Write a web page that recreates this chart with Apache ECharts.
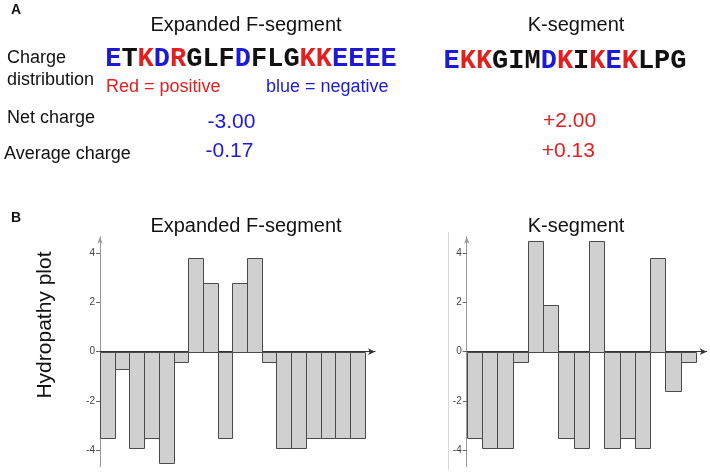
<!DOCTYPE html>
<html>
<head>
<meta charset="utf-8">
<script src="https://cdn.jsdelivr.net/npm/echarts@6/dist/echarts.min.js"></script>
<style>html,body{margin:0;padding:0;background:#fff}#c{width:710px;height:474px}</style>
</head>
<body>
<div id="c"></div>
<script>
// ---- data ----
const seqF = ['E','T','K','D','R','G','L','F','D','F','L','G','K','K','E','E','E','E'];
const hydroF = [-3.5,-0.7,-3.9,-3.5,-4.5,-0.4,3.8,2.8,-3.5,2.8,3.8,-0.4,-3.9,-3.9,-3.5,-3.5,-3.5,-3.5];
const seqK = ['E','K','K','G','I','M','D','K','I','K','E','K','L','P','G'];
const hydroK = [-3.5,-3.9,-3.9,-0.4,4.5,1.9,-3.5,-3.9,4.5,-3.9,-3.5,-3.9,3.8,-1.6,-0.4];
const netCharge = ['-3.00', '+2.00'];
const avgCharge = ['-0.17', '+0.13'];
const yTicks = [-4, -2, 0, 2, 4];
const positive = ['K','R'];
const negative = ['D','E'];

const RED = '#e3201f', BLUE = '#1c1ad8';
const SANS = '"Liberation Sans", Arial, sans-serif';
const MONO = '"Liberation Mono", "Courier New", monospace';

function richSeq(seq) {
  return seq.map(c => positive.includes(c) ? '{p|' + c + '}' : negative.includes(c) ? '{n|' + c + '}' : '{o|' + c + '}').join('');
}
const seqRich = {
  p: {fill: RED, font: 'bold 27px ' + MONO},
  n: {fill: BLUE, font: 'bold 27px ' + MONO},
  o: {fill: '#111', font: 'bold 27px ' + MONO}
};
function txt(text, x, y, size, color, align, extra) {
  return Object.assign({
    type: 'text', x: x, y: y, silent: true,
    style: {text: text, fill: color || '#111', font: size + 'px ' + SANS, align: align || 'center', verticalAlign: 'middle'}
  }, extra || {});
}

const chart = echarts.init(document.getElementById('c'));

const EXTRA = 0.7;
function makeXAxis(grid, n) {
  return {
    type: 'value', gridIndex: grid, min: 0, max: n + EXTRA,
    axisLine: {onZero: true, lineStyle: {color: '#333', width: 1}, symbol: ['none', 'arrow'], symbolSize: [5, 7]},
    axisTick: {show: false}, axisLabel: {show: false}, splitLine: {show: false}
  };
}
function makeYAxis(grid) {
  return {
    type: 'value', gridIndex: grid, min: -4.66, max: 4.66,
    axisLine: {show: true, onZero: false, lineStyle: {color: '#999', width: 1}, symbol: ['none', 'arrow'], symbolSize: [4, 7]},
    axisTick: {show: true, length: 4, customValues: yTicks, lineStyle: {color: '#666'}},
    axisLabel: {customValues: yTicks, fontSize: 10, color: '#444', fontFamily: SANS, margin: 5},
    splitLine: {show: false}
  };
}
function barData(vals) { return vals.map((v, i) => [i, v]); }
function renderBar(params, api) {
  const i = api.value(0), v = api.value(1);
  const p0 = api.coord([i, 0]);
  const p1 = api.coord([i + 1, v]);
  const x = Math.round(p0[0]) + 0.5, x2 = Math.round(p1[0]) + 0.5;
  const y0 = Math.round(p0[1]) + 0.5, y1 = Math.round(p1[1]) + 0.5;
  return {
    type: 'rect',
    shape: {x: x, y: Math.min(y0, y1), width: x2 - x, height: Math.abs(y1 - y0)},
    style: {fill: '#d0d0d0', stroke: '#4a4a4a', lineWidth: 1}
  };
}

chart.setOption({
  animation: false,
  backgroundColor: '#fff',
  grid: [
    {left: 100, top: 236.7, width: 275, height: 230},
    {left: 466.7, top: 236.7, width: 240, height: 230}
  ],
  xAxis: [makeXAxis(0, hydroF.length), makeXAxis(1, hydroK.length)],
  yAxis: [makeYAxis(0), makeYAxis(1)],
  series: [
    {type: 'custom', xAxisIndex: 0, yAxisIndex: 0, data: barData(hydroF), encode: {x: 0, y: 1}, renderItem: renderBar, z: 1},
    {type: 'custom', xAxisIndex: 1, yAxisIndex: 1, data: barData(hydroK), encode: {x: 0, y: 1}, renderItem: renderBar, z: 1}
  ],
  graphic: [
    {type: 'text', x: 16, y: 10, silent: true, style: {text: 'A', font: 'bold 14px ' + SANS, fill: '#111', align: 'center', verticalAlign: 'middle'}},
    txt('Expanded F-segment', 246, 25, 20),
    txt('K-segment', 576, 25, 20),
    txt('Charge', 7, 58, 18, '#111', 'left'),
    txt('distribution', 7, 80, 18, '#111', 'left'),
    {type: 'text', x: 251, y: 59.5, silent: true, style: {text: richSeq(seqF), rich: seqRich, font: 'bold 27px ' + MONO, align: 'center', verticalAlign: 'middle'}},
    {type: 'text', x: 565, y: 61, silent: true, style: {text: richSeq(seqK), rich: seqRich, font: 'bold 27px ' + MONO, align: 'center', verticalAlign: 'middle'}},
    txt('Red = positive', 106, 87.5, 18, RED, 'left'),
    txt('blue = negative', 266, 87.5, 18, BLUE, 'left'),
    txt('Net charge', 7, 118.5, 18, '#111', 'left'),
    txt('Average charge', 4, 154, 18, '#111', 'left'),
    txt(netCharge[0], 231.5, 122.5, 21, BLUE),
    txt(avgCharge[0], 229.5, 151.7, 21, BLUE),
    txt(netCharge[1], 569.5, 121.7, 21, RED),
    txt(avgCharge[1], 568.3, 151.7, 21, RED),
    {type: 'text', x: 16, y: 218, silent: true, style: {text: 'B', font: 'bold 14px ' + SANS, fill: '#111', align: 'center', verticalAlign: 'middle'}},
    txt('Expanded F-segment', 246, 226.7, 20),
    txt('K-segment', 576, 226.7, 20),
    txt('Hydropathy plot', 45, 325, 21, '#111', 'center', {rotation: Math.PI / 2}),
    {type: 'line', silent: true, shape: {x1: 448.5, y1: 232, x2: 448.5, y2: 470}, style: {stroke: '#d8d8d8', lineWidth: 1}}
  ]
});
</script>
</body>
</html>
